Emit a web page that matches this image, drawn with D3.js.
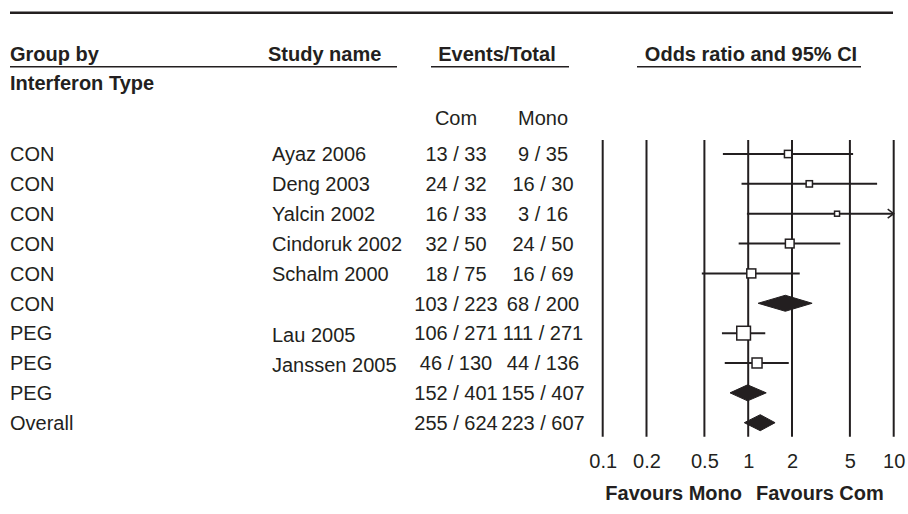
<!DOCTYPE html>
<html>
<head>
<meta charset="utf-8">
<script src="https://cdn.jsdelivr.net/npm/d3@7"></script>
<style>
  html, body { margin: 0; padding: 0; background: #fff; }
  svg { display: block; }
  text { font-family: "Liberation Sans", Arial, Helvetica, sans-serif; fill: #231f20; }
</style>
</head>
<body>
<svg id="chart" width="908" height="514"></svg>
<script>
// ---- data ----
const groups      = ["CON", "CON", "CON", "CON", "CON", "CON", "PEG", "PEG", "PEG", "Overall"];
const studies     = ["Ayaz 2006", "Deng 2003", "Yalcin 2002", "Cindoruk 2002", "Schalm 2000", "", "Lau 2005", "Janssen 2005", "", ""];
const comEvents   = [13, 24, 16, 32, 18, 103, 106, 46, 152, 255];
const comTotal    = [33, 32, 33, 50, 75, 223, 271, 130, 401, 624];
const monoEvents  = [9, 16, 3, 24, 16, 68, 111, 44, 155, 223];
const monoTotal   = [35, 30, 16, 50, 69, 200, 271, 136, 407, 607];
const oddsRatio   = [1.88, 2.63, 4.08, 1.93, 1.05, 1.80, 0.93, 1.15, 0.99, 1.21];
const ciLower     = [0.67, 0.90, 0.98, 0.86, 0.48, 1.17, 0.66, 0.69, 0.75, 0.94];
const ciUpper     = [5.26, 7.69, 17.0, 4.29, 2.26, 2.75, 1.31, 1.90, 1.33, 1.53];
const isSummary   = [false, false, false, false, false, true, false, false, true, true];
const relWeight   = [53, 40, 25, 76, 81, 0, 188, 100, 0, 0];
const tickValues  = [0.1, 0.2, 0.5, 1, 2, 5, 10];
const headers     = ["Group by", "Study name", "Events/Total", "Odds ratio and 95% CI"];
const subHeader   = "Interferon Type";
const armLabels   = ["Com", "Mono"];
const favours     = ["Favours Mono", "Favours Com"];

// ---- layout ----
const svg = d3.select("#chart");
const ink = "#231f20";
const x = d3.scaleLog().domain([0.1, 10]).range([602.7, 893.7]);
const y = d3.scalePoint().domain(d3.range(groups.length)).range([154, 422.7]);
const sq = d3.scaleSqrt().domain([0, 188]).range([0, 13.7]);
const plotTop = 140, plotBottom = 436.7;
const colGroup = 10, colStudy = 272, colCom = 456, colMono = 543;
const fs = 20;

// top rule
svg.append("line").attr("x1", 10).attr("x2", 893).attr("y1", 12.7).attr("y2", 12.7)
  .attr("stroke", ink).attr("stroke-width", 2.5);

// headers
const hdr = svg.append("g").attr("font-size", fs).attr("font-weight", "bold");
hdr.append("text").attr("x", colGroup).attr("y", 61).text(headers[0]);
hdr.append("text").attr("x", 268).attr("y", 61).text(headers[1]);
hdr.append("text").attr("x", 497).attr("y", 61).attr("text-anchor", "middle").text(headers[2]);
hdr.append("text").attr("x", 751).attr("y", 61).attr("text-anchor", "middle").text(headers[3]);
hdr.append("text").attr("x", colGroup).attr("y", 90).text(subHeader);
[[10, 397], [431, 569], [637, 861]].forEach(([a, b]) => {
  svg.append("line").attr("x1", a).attr("x2", b).attr("y1", 66.7).attr("y2", 66.7)
    .attr("stroke", ink).attr("stroke-width", 1.5);
});
svg.append("text").attr("x", colCom).attr("y", 125).attr("font-size", fs)
  .attr("text-anchor", "middle").text(armLabels[0]);
svg.append("text").attr("x", colMono).attr("y", 125).attr("font-size", fs)
  .attr("text-anchor", "middle").text(armLabels[1]);

// table rows
const rows = svg.append("g").attr("font-size", fs);
groups.forEach((g, i) => {
  const by = y(i) + 7.3;
  rows.append("text").attr("x", colGroup).attr("y", by).text(g);
  if (studies[i]) rows.append("text").attr("x", colStudy).attr("y", by + (i >= 6 ? 1.5 : 0)).text(studies[i]);
  rows.append("text").attr("x", colCom).attr("y", by).attr("text-anchor", "middle")
    .text(`${comEvents[i]} / ${comTotal[i]}`);
  rows.append("text").attr("x", colMono).attr("y", by).attr("text-anchor", "middle")
    .text(`${monoEvents[i]} / ${monoTotal[i]}`);
});

// vertical reference lines
svg.append("g").selectAll("line").data(tickValues).join("line")
  .attr("x1", d => x(d)).attr("x2", d => x(d))
  .attr("y1", plotTop).attr("y2", plotBottom)
  .attr("stroke", ink).attr("stroke-width", 2);

// axis tick labels
const axis = d3.axisBottom(x).tickValues(tickValues).tickFormat(d => String(d)).tickSize(0).tickPadding(0);
const ag = svg.append("g").attr("transform", "translate(0,453)").call(axis);
ag.select(".domain").remove();
ag.selectAll("text").attr("font-size", fs).attr("fill", ink)
  .attr("font-family", '"Liberation Sans", Arial, sans-serif').attr("dy", "0.75em");

// CI lines, squares, diamonds
const marks = svg.append("g");
const xmax = x.domain()[1], xmin = x.domain()[0];
groups.forEach((g, i) => {
  const cy = y(i);
  if (isSummary[i]) {
    const h = 8;
    const pts = [[x(ciLower[i]), cy], [x(oddsRatio[i]), cy - h], [x(ciUpper[i]), cy], [x(oddsRatio[i]), cy + h]];
    marks.append("path").attr("d", "M" + pts.map(p => p.join(",")).join("L") + "Z")
      .attr("fill", ink).attr("stroke", ink).attr("stroke-width", 1);
    return;
  }
  const lo = Math.max(ciLower[i], xmin), hi = Math.min(ciUpper[i], xmax);
  marks.append("line").attr("x1", x(lo)).attr("x2", x(hi)).attr("y1", cy).attr("y2", cy)
    .attr("stroke", ink).attr("stroke-width", 2);
  if (ciUpper[i] > xmax) {
    const ax = x(xmax);
    marks.append("path").attr("d", `M${ax - 6},${cy - 4.5}L${ax},${cy}L${ax - 6},${cy + 4.5}`)
      .attr("fill", "none").attr("stroke", ink).attr("stroke-width", 1.5);
  }
  const s = sq(relWeight[i]);
  marks.append("rect").attr("x", x(oddsRatio[i]) - s / 2).attr("y", cy - s / 2)
    .attr("width", s).attr("height", s)
    .attr("fill", "#fff").attr("stroke", ink).attr("stroke-width", 1.5);
});

// favours labels
const fav = svg.append("g").attr("font-size", fs).attr("font-weight", "bold");
fav.append("text").attr("x", 742).attr("y", 500).attr("text-anchor", "end").text(favours[0]);
fav.append("text").attr("x", 756).attr("y", 500).text(favours[1]);
</script>
</body>
</html>
